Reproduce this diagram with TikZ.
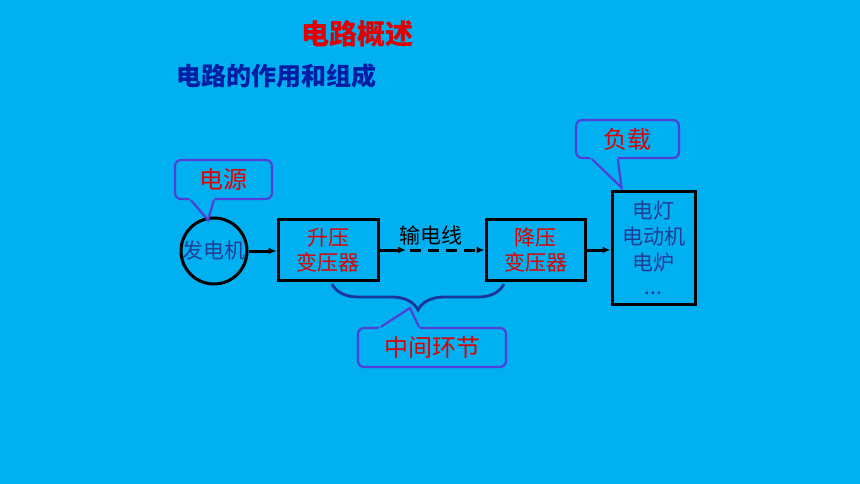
\documentclass[tikz,border=0pt]{standalone}
\usepackage{fontspec}
\setmainfont{Noto Sans CJK SC}
\usepackage{tikz}
\usetikzlibrary{arrows.meta, positioning, calc, decorations.pathreplacing}
\usepackage{xcolor}
\definecolor{bgcyan}{RGB}{0,176,240}
\definecolor{txtred}{RGB}{225,0,0}
\definecolor{headblue}{RGB}{0,30,165}
\definecolor{txtblue}{RGB}{35,60,150}
\definecolor{bubbleline}{RGB}{80,64,216}
\definecolor{bracecol}{RGB}{25,55,155}

\begin{document}
\begin{tikzpicture}[x=1pt, y=-1pt,
  unit/.style={draw=black, line width=3pt, fill=bgcyan, align=center, inner sep=0pt},
  redtxt/.style={text=txtred, font=\fontsize{21}{25}\selectfont},
  bluetxt/.style={text=txtblue, font=\fontsize{21}{26}\selectfont},
  bubble/.style={draw=bubbleline, line width=2.2pt, fill=bgcyan, rounded corners=6pt,
                 text=txtred, font=\fontsize{24}{26}\selectfont, inner sep=0pt},
  tail/.style={draw=bubbleline, line width=2.2pt, line join=miter},
  feed/.style={line width=3pt, -{Latex[length=8pt, width=7pt]}},
  brace/.style={draw=bracecol, line width=2.8pt,
                decorate, decoration={brace, mirror, amplitude=26pt}}
]
  \fill[bgcyan] (0,0) rectangle (860,484);
  \useasboundingbox (0,0) rectangle (860,484);

  \node[text=txtred, font=\bfseries\fontsize{28}{30}\selectfont] (title) at (357,34) {电路概述};
  \node[text=headblue, font=\bfseries\fontsize{25}{27}\selectfont, anchor=west] (sub) at (173,76) {电路的作用和组成};

  \node[unit, circle, minimum size=66pt, bluetxt] (gen) at (214,251) {发电机};
  \node[unit, minimum width=100pt, minimum height=61pt, redtxt] (up) at (328,250) {升压\\变压器};
  \node[unit, minimum width=99pt, minimum height=61pt, redtxt] (down) at (535.5,250) {降压\\变压器};
  \node[unit, minimum width=83pt, minimum height=112pt, bluetxt] (load) at (653.5,248) {电灯\\电动机\\电炉\\[-2pt]...};

  \coordinate (mid) at (406,250);
  \node[font=\fontsize{21}{24}\selectfont, text=black] (line) at (431,235) {输电线};

  \draw[feed] (gen.east) -- (gen.east -| up.west);
  \draw[feed] (up.east) -- (mid);
  \draw[feed, dash pattern=on 11pt off 7pt, dash phase=-4pt] (mid) -- (mid -| down.west);
  \draw[feed] (down.east) -- (down.east -| load.west);

  \draw[brace] ([xshift=4pt, yshift=-2pt]up.south) -- ([xshift=-31.5pt, yshift=-2pt]down.south);
  \coordinate (brtip) at (418,308);

  \node[bubble, minimum width=97pt, minimum height=39pt] (src) at (223.5,179.5) {电源};
  \node[bubble, minimum width=103pt, minimum height=38pt] (cons) at (627.5,139) {负载};
  \node[bubble, minimum width=148pt, minimum height=39pt] (link) at (432,347.5) {中间环节};

  \coordinate (srcL) at ([xshift=17pt]src.south west);
  \coordinate (srcR) at ([xshift=40pt]src.south west);
  \coordinate (srcT) at ([yshift=-3pt]gen.100);
  \fill[bgcyan] (srcT) -- ($(srcT)!1.25!(srcL)$) -- ($(srcT)!1.25!(srcR)$) -- cycle;
  \draw[tail] (srcL) -- (srcT) -- (srcR);

  \coordinate (consL) at ([xshift=17pt]cons.south west);
  \coordinate (consR) at ([xshift=43pt]cons.south west);
  \coordinate (consT) at ([xshift=11pt, yshift=3pt]load.north west);
  \fill[bgcyan] (consT) -- ($(consT)!1.2!(consL)$) -- ($(consT)!1.2!(consR)$) -- cycle;
  \draw[tail] (consL) -- (consT) -- (consR);

  \coordinate (linkL) at ([xshift=24pt]link.north west);
  \coordinate (linkR) at ([xshift=62pt]link.north west);
  \coordinate (linkT) at ([xshift=-8pt]brtip);
  \fill[bgcyan] (linkT) -- ($(linkT)!1.25!(linkL)$) -- ($(linkT)!1.25!(linkR)$) -- cycle;
  \draw[tail] (linkL) -- (linkT) -- (linkR);
\end{tikzpicture}
\end{document}
